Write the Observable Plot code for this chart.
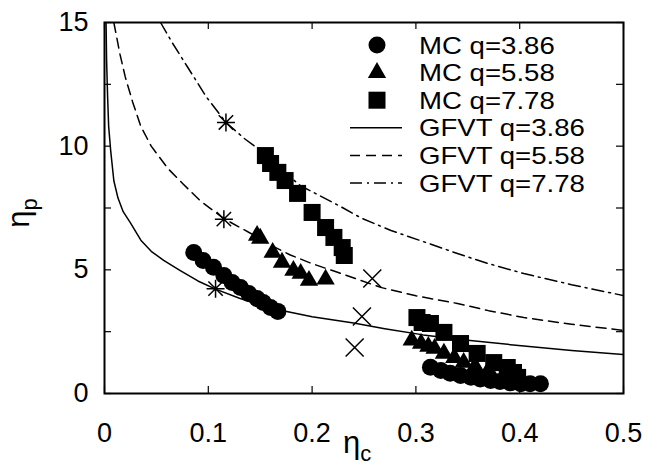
<!DOCTYPE html>
<html>
<head>
<meta charset="utf-8">
<script src="https://cdn.jsdelivr.net/npm/d3@7"></script>
<script src="https://cdn.jsdelivr.net/npm/@observablehq/plot@0.6"></script>
<style>
  html, body { margin: 0; padding: 0; background: white; }
  #chart { width: 648px; height: 468px; }
</style>
</head>
<body>
<div id="chart"></div>
<script>
// ---- tick values / labels ----
const xTicks = [0, 0.1, 0.2, 0.3, 0.4, 0.5];
const xTickLabels = ["0", "0.1", "0.2", "0.3", "0.4", "0.5"];
const yTicks = [0, 5, 10, 15];
const yTickLabels = ["0", "5", "10", "15"];
const yMinorTicks = [0, 2.5, 5, 7.5, 10, 12.5, 15];

// ---- legend labels ----
const legendLabels = ["MC q=3.86", "MC q=5.58", "MC q=7.78", "GFVT q=3.86", "GFVT q=5.58", "GFVT q=7.78"];

// ---- MC q=3.86 (circles) ----
const mc386x = [0.086, 0.095, 0.105, 0.115, 0.123, 0.131, 0.139, 0.147, 0.153, 0.160, 0.167,
                0.314, 0.324, 0.333, 0.343, 0.353, 0.362, 0.372, 0.381, 0.391, 0.401, 0.410, 0.420];
const mc386y = [5.70, 5.38, 5.10, 4.77, 4.49, 4.29, 4.04, 3.84, 3.68, 3.48, 3.32,
                1.06, 0.93, 0.82, 0.73, 0.66, 0.59, 0.53, 0.49, 0.43, 0.39, 0.39, 0.39];

// ---- MC q=5.58 (triangles) ----
const mc558x = [0.147, 0.150, 0.162, 0.171, 0.182, 0.189, 0.197, 0.213,
                0.296, 0.305, 0.312, 0.318, 0.327, 0.337, 0.346, 0.357, 0.370];
const mc558y = [6.39, 6.27, 5.70, 5.30, 4.97, 4.85, 4.57, 4.62,
                2.15, 2.02, 1.90, 1.82, 1.62, 1.45, 1.25, 1.10, 0.95];

// ---- MC q=7.78 (squares) ----
const mc778x = [0.155, 0.160, 0.167, 0.174, 0.186, 0.200, 0.213, 0.221, 0.229, 0.231,
                0.301, 0.306, 0.314, 0.327, 0.343, 0.359, 0.375, 0.388, 0.394, 0.398];
const mc778y = [9.62, 9.30, 8.94, 8.61, 8.09, 7.32, 6.71, 6.31, 5.90, 5.58,
                3.07, 2.87, 2.83, 2.47, 2.02, 1.62, 1.25, 1.05, 0.85, 0.65];

// ---- extra points (asterisks and crosses) ----
const starX = [0.117, 0.115, 0.107];
const starY = [10.96, 7.05, 4.24];
const crossX = [0.258, 0.248, 0.241];
const crossY = [4.65, 3.11, 1.86];

// ---- GFVT curves ----
const gf386x = [0.0015, 0.002, 0.003, 0.004, 0.006, 0.009, 0.013, 0.018, 0.025, 0.035, 0.045, 0.057, 0.073,
                0.090, 0.107, 0.130, 0.150, 0.172, 0.200, 0.240, 0.270, 0.307, 0.350, 0.404, 0.450, 0.500];
const gf386y = [15.0, 13.5, 12.0, 10.8, 9.8, 8.6, 7.9, 7.35, 6.9, 6.2, 5.75, 5.38, 4.97,
                4.55, 4.22, 3.85, 3.58, 3.35, 3.10, 2.85, 2.62, 2.37, 2.15, 1.92, 1.74, 1.58];

const gf558x = [0.009, 0.015, 0.020, 0.027, 0.035, 0.045, 0.061, 0.075, 0.092, 0.115, 0.141, 0.160,
                0.179, 0.200, 0.221, 0.247, 0.266, 0.300, 0.340, 0.370, 0.404, 0.450, 0.500];
const gf558y = [15.0, 13.7, 12.8, 11.8, 10.8, 10.0, 9.1, 8.5, 7.8, 7.07, 6.47, 6.0,
                5.6, 5.25, 4.95, 4.57, 4.29, 3.95, 3.64, 3.35, 3.07, 2.80, 2.55];

const gf778x = [0.054, 0.065, 0.080, 0.098, 0.117, 0.135, 0.150, 0.170, 0.189, 0.205, 0.230, 0.247,
                0.276, 0.310, 0.340, 0.370, 0.404, 0.450, 0.500];
const gf778y = [15.0, 14.2, 13.2, 12.0, 10.96, 10.3, 9.83, 9.05, 8.4, 8.05, 7.5, 7.1,
                6.59, 6.1, 5.66, 5.25, 4.85, 4.40, 3.96];

const rows = (xs, ys) => xs.map((x, i) => ({x, y: ys[i]}));

// custom gnuplot-like symbols
const starSymbol = {
  draw(ctx, size) {
    const r = Math.sqrt(size / Math.PI);
    const d = r * 0.8;
    ctx.moveTo(-r, 0); ctx.lineTo(r, 0);
    ctx.moveTo(0, -r); ctx.lineTo(0, r);
    ctx.moveTo(-d, -d); ctx.lineTo(d, d);
    ctx.moveTo(-d, d); ctx.lineTo(d, -d);
  }
};
const crossSymbol = {
  draw(ctx, size) {
    const r = Math.sqrt(size / Math.PI);
    ctx.moveTo(-r, -r); ctx.lineTo(r, r);
    ctx.moveTo(-r, r); ctx.lineTo(r, -r);
  }
};

const FONT = "'Liberation Sans', Arial, Helvetica, sans-serif";
const W = 648, H = 468, ML = 104, MR = 25, MT = 22, MB = 75;
const FH = H - MT - MB, FW = W - ML - MR, TICK = 7;

const dashes = {solid: null, dashed: "10,6", dashdot: "12,5,2,5"};

const chart = Plot.plot({
  width: W,
  height: H,
  marginLeft: ML,
  marginRight: MR,
  marginTop: MT,
  marginBottom: MB,
  style: {fontFamily: FONT, fontSize: "26px", background: "white", color: "black", overflow: "visible"},
  x: {domain: [0, 0.5], label: null},
  y: {domain: [0, 15], label: null},
  marks: [
    // MC points
    Plot.dot(rows(mc386x, mc386y), {x: "x", y: "y", symbol: "circle", r: 8.5, fill: "black", stroke: "none"}),
    Plot.dot(rows(mc558x, mc558y), {x: "x", y: "y", symbol: "triangle", r: 6.8, fill: "black", stroke: "none"}),
    Plot.dot(rows(mc778x, mc778y), {x: "x", y: "y", symbol: "square", r: 9.6, fill: "black", stroke: "none"}),
    // GFVT lines
    Plot.line(rows(gf386x, gf386y), {x: "x", y: "y", stroke: "black", strokeWidth: 1.5, clip: true}),
    Plot.line(rows(gf558x, gf558y), {x: "x", y: "y", stroke: "black", strokeWidth: 1.5, strokeDasharray: dashes.dashed, clip: true}),
    Plot.line(rows(gf778x, gf778y), {x: "x", y: "y", stroke: "black", strokeWidth: 1.5, strokeDasharray: dashes.dashdot, clip: true}),
    // asterisks and crosses
    Plot.dot(rows(starX, starY), {x: "x", y: "y", symbol: starSymbol, r: 9, fill: "none", stroke: "black", strokeWidth: 1.5}),
    Plot.dot(rows(crossX, crossY), {x: "x", y: "y", symbol: crossSymbol, r: 9, fill: "none", stroke: "black", strokeWidth: 1.5}),
    // inward ticks on all four sides
    Plot.ruleX(xTicks, {x: d => d, insetTop: FH - TICK, stroke: "black", strokeWidth: 1.2}),
    Plot.ruleX(xTicks, {x: d => d, insetBottom: FH - TICK, stroke: "black", strokeWidth: 1.2}),
    Plot.ruleY(yMinorTicks, {y: d => d, insetRight: FW - TICK, stroke: "black", strokeWidth: 1.2}),
    Plot.ruleY(yMinorTicks, {y: d => d, insetLeft: FW - TICK, stroke: "black", strokeWidth: 1.2}),
    // tick labels
    Plot.axisX(xTicks, {tickSize: 0, tickPadding: 29, tickFormat: d => xTickLabels[xTicks.indexOf(d)], fontSize: 27, label: null}),
    Plot.axisY(yTicks, {tickSize: 0, tickPadding: 16, tickFormat: d => yTickLabels[yTicks.indexOf(d)], fontSize: 27, label: null}),
    Plot.frame({stroke: "black", strokeWidth: 2})
  ]
});

document.getElementById("chart").appendChild(chart);

// ---- axis titles ----
const svg = d3.select(chart);
const xt = svg.append("text")
  .attr("x", 357).attr("y", 453)
  .attr("text-anchor", "middle")
  .attr("font-family", FONT).attr("fill", "black");
xt.append("tspan").attr("font-size", 31).text("η");
xt.append("tspan").attr("font-size", 22).attr("dy", 8).text("c");

const yt = svg.append("text")
  .attr("transform", "translate(29,213) rotate(-90)")
  .attr("text-anchor", "middle")
  .attr("font-family", FONT).attr("fill", "black");
yt.append("tspan").attr("font-size", 31).text("η");
yt.append("tspan").attr("font-size", 22).attr("dy", 8).text("p");

// ---- legend ----
const lg = svg.append("g").attr("font-family", FONT).attr("font-size", 24).attr("fill", "black")
  .attr("text-anchor", "start");
const legendTop = 45, legendStep = 27.6, textX = 419, symX = 377, stretchX = 1.15;
const symPaths = [
  d3.symbol(d3.symbolCircle, Math.PI * 8.5 * 8.5)(),
  d3.symbol(d3.symbolTriangle, Math.PI * 6.8 * 6.8)(),
  d3.symbol(d3.symbolSquare, Math.PI * 9.6 * 9.6)()
];
const lineStyles = [dashes.solid, dashes.dashed, dashes.dashdot];
legendLabels.forEach((lab, i) => {
  const y = legendTop + i * legendStep;
  lg.append("text")
    .attr("transform", `translate(${textX},${y}) scale(${stretchX},1)`)
    .attr("dy", "0.36em").attr("text-anchor", "start").text(lab);
  if (i < 3) {
    lg.append("path").attr("d", symPaths[i]).attr("transform", `translate(${symX},${y})`).attr("fill", "black");
  } else {
    const ln = lg.append("line").attr("x1", 350).attr("x2", 402).attr("y1", y).attr("y2", y)
      .attr("stroke", "black").attr("stroke-width", 1.5);
    if (lineStyles[i - 3]) ln.attr("stroke-dasharray", lineStyles[i - 3]);
  }
});
</script>
</body>
</html>
